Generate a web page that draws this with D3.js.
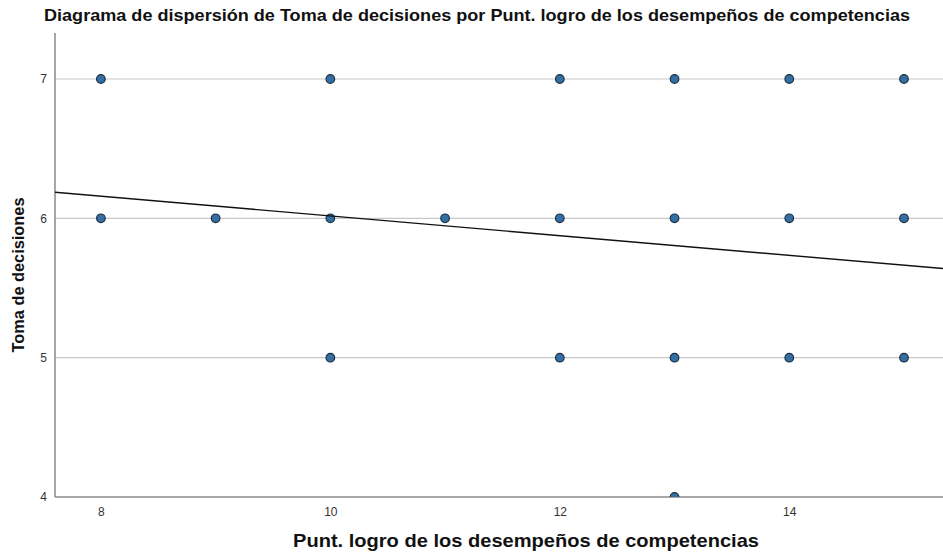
<!DOCTYPE html>
<html lang="es">
<head>
<meta charset="UTF-8"/>
<title>Diagrama de dispersión</title>
<script src="https://d3js.org/d3.v7.min.js"></script>
<style>
  body { margin: 0; background: #fff; }
  text { font-family: "Liberation Sans", Arial, sans-serif; }
</style>
</head>
<body>
<script>
// puntos (x = Punt. logro, y = Toma de decisiones)
var logro    = [8, 8, 9, 10, 10, 10, 11, 12, 12, 12, 13, 13, 13, 13, 14, 14, 14, 15, 15, 15];
var decision = [7, 6, 6, 7, 6, 5, 6, 7, 6, 5, 7, 6, 5, 4, 7, 6, 5, 7, 6, 5];
var xTicks = [8, 10, 12, 14];
var yTicks = [4, 5, 6, 7];
// recta de ajuste
var intercepto = 6.724;
var pendiente = -0.0707;

var w = 943, h = 556;
var mLeft = 55, mRight = 943, mTop = 33, mBottom = 497;

var svg = d3.select("body").append("svg")
    .attr("width", w)
    .attr("height", h);

var x = d3.scaleLinear().domain([7.6, 15.34]).range([mLeft, mRight]);
var y = d3.scaleLinear().domain([4, 7.33]).range([mBottom, mTop]);

svg.append("clipPath").attr("id", "clip")
  .append("rect")
    .attr("x", mLeft).attr("y", mTop)
    .attr("width", mRight - mLeft).attr("height", mBottom - mTop);

// grid
svg.append("g")
  .selectAll("line")
  .data(yTicks.filter(function(d){ return d > 4; }))
  .enter().append("line")
    .attr("x1", mLeft).attr("x2", mRight)
    .attr("y1", function(d){ return y(d); })
    .attr("y2", function(d){ return y(d); })
    .attr("stroke", "#c8c8c8")
    .attr("stroke-width", 1.2);

// ejes
var xAxis = svg.append("g")
    .attr("transform", "translate(0," + mBottom + ")")
    .call(d3.axisBottom(x).tickValues(xTicks).tickFormat(d3.format("d")).tickSize(0).tickPadding(10));
var yAxis = svg.append("g")
    .attr("transform", "translate(" + mLeft + ",0)")
    .call(d3.axisLeft(y).tickValues(yTicks).tickFormat(d3.format("d")).tickSize(0).tickPadding(8));

[xAxis, yAxis].forEach(function(a){
  a.select(".domain").remove();
  a.selectAll("text").attr("font-size", 12).attr("fill", "#333")
    .attr("font-family", "'Liberation Sans', Arial, sans-serif");
});

svg.append("line")
    .attr("x1", mLeft).attr("x2", mLeft).attr("y1", mTop).attr("y2", mBottom)
    .attr("stroke", "#8a8a8a").attr("stroke-width", 1.5);
svg.append("line")
    .attr("x1", mLeft).attr("x2", mRight).attr("y1", mBottom).attr("y2", mBottom)
    .attr("stroke", "#8a8a8a").attr("stroke-width", 1.5);

// puntos
var plot = svg.append("g").attr("clip-path", "url(#clip)");

plot.selectAll("circle")
  .data(logro)
  .enter().append("circle")
    .attr("cx", function(d){ return x(d); })
    .attr("cy", function(d, i){ return y(decision[i]); })
    .attr("r", 4.3)
    .attr("fill", "#336fa3")
    .attr("stroke", "#1c2f42")
    .attr("stroke-width", 1.2);

// recta
var xd = x.domain();
plot.append("line")
    .attr("x1", x(xd[0])).attr("y1", y(intercepto + pendiente * xd[0]))
    .attr("x2", x(xd[1])).attr("y2", y(intercepto + pendiente * xd[1]))
    .attr("stroke", "#111")
    .attr("stroke-width", 1.4);

// textos
svg.append("text")
    .attr("x", 477).attr("y", 21)
    .attr("text-anchor", "middle")
    .attr("font-size", 16.5).attr("font-weight", "bold")
    .attr("textLength", 866).attr("lengthAdjust", "spacingAndGlyphs")
    .attr("fill", "#111")
    .text("Diagrama de dispersión de Toma de decisiones por Punt. logro de los desempeños de competencias");

svg.append("text")
    .attr("x", 526).attr("y", 547)
    .attr("text-anchor", "middle")
    .attr("font-size", 19).attr("font-weight", "bold")
    .attr("textLength", 466).attr("lengthAdjust", "spacingAndGlyphs")
    .attr("fill", "#111")
    .text("Punt. logro de los desempeños de competencias");

svg.append("text")
    .attr("transform", "translate(24,275) rotate(-90)")
    .attr("text-anchor", "middle")
    .attr("font-size", 16).attr("font-weight", "bold")
    .attr("textLength", 155).attr("lengthAdjust", "spacingAndGlyphs")
    .attr("fill", "#111")
    .text("Toma de decisiones");
</script>
</body>
</html>
